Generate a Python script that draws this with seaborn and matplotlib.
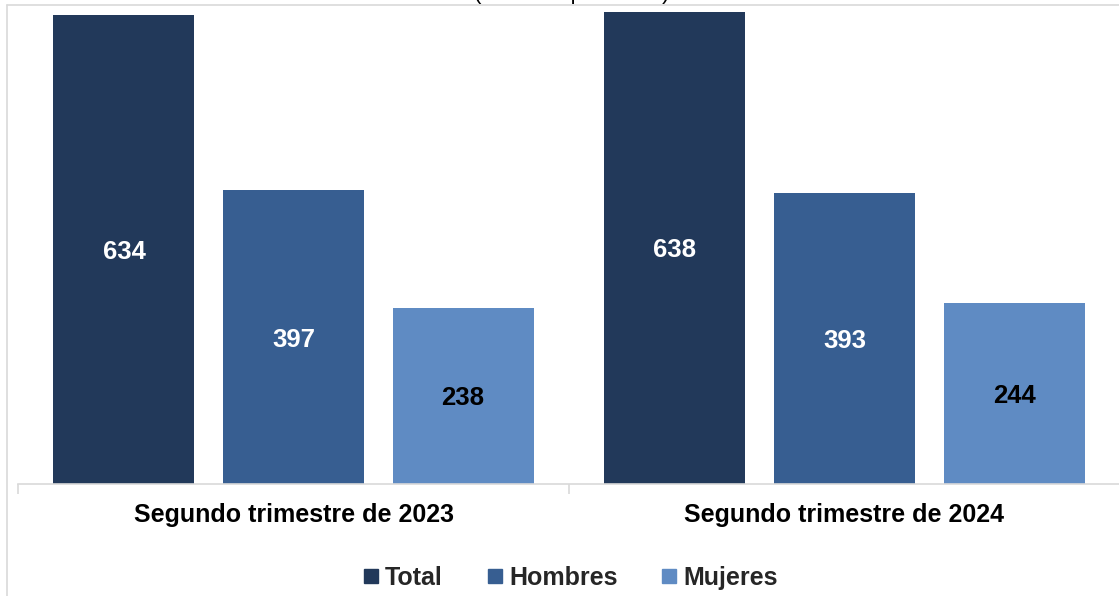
import pandas as pd
import seaborn as sns
import matplotlib.pyplot as plt
from matplotlib.lines import Line2D

# datos (miles de personas)
periodos = ['Segundo trimestre de 2023', 'Segundo trimestre de 2024']
series = ['Total', 'Hombres', 'Mujeres']
total = [634, 638]
hombres = [397, 393]
mujeres = [238, 244]
colores = ['#22395A', '#375E91', '#5F8BC3']
color_texto = ['white', 'white', 'black']

df = pd.DataFrame({
    'periodo': periodos * 3,
    'serie': [s for s in series for _ in periodos],
    'valor': total + hombres + mujeres,
})

sns.set_theme(style='white')
plt.rcParams['font.family'] = ['Liberation Sans', 'DejaVu Sans']

fig = plt.figure(figsize=(11.19, 5.96), dpi=100)
ax = fig.add_axes([18 / 1119, 112 / 596, 1102 / 1119, 481 / 596])

sns.barplot(data=df, x='periodo', y='valor', hue='serie', order=periodos,
            hue_order=series, palette=colores, width=0.923, gap=0.168,
            saturation=1, edgecolor='none', legend=False, ax=ax)

# etiquetas de valor dentro de las barras
for cont, col in zip(ax.containers, color_texto):
    labs = ax.bar_label(cont, fmt='%d', label_type='center', color=col,
                        fontsize=18.5, fontweight='bold')
    for t in labs:
        t.set_va('center_baseline')

ax.set_xlim(-0.5, 1.5)
ax.set_ylim(0, 650)
ax.set_xlabel('')
ax.set_ylabel('')
ax.set_yticks([])
for s in ['left', 'right', 'top']:
    ax.spines[s].set_visible(False)
ax.spines['bottom'].set_color('#D9D9D9')
ax.spines['bottom'].set_linewidth(1.2)

ax.set_xticks([0, 1])
ax.set_xticklabels(periodos, fontsize=18, fontweight='bold', color='black')
ax.tick_params(axis='x', which='major', length=0, pad=14)
ax.set_xticks([-0.5, 0.5, 1.5], minor=True)
ax.tick_params(axis='x', which='minor', length=7, width=1.2, color='#D9D9D9',
               direction='out', bottom=True)

# leyenda
handles = [Line2D([], [], marker='s', linestyle='none', markersize=9.5,
                  markerfacecolor=c, markeredgecolor=c) for c in colores]
fig.legend(handles, series, loc='center', bbox_to_anchor=(571 / 1119, 18 / 596),
           ncol=3, frameon=False, handlelength=0.55, handletextpad=0.3,
           columnspacing=1.8, prop={'size': 18, 'weight': 'bold'})

# título recortado en la parte superior
fig.text(572 / 1119, 1 + 1 / 596, '(Miles de personas)', ha='center',
         va='baseline', fontsize=16, color='black')

# borde del área del gráfico
fig.add_artist(Line2D([7 / 1119, 7 / 1119], [0, 1 - 5 / 596],
                      transform=fig.transFigure, color='#D9D9D9', lw=1.2))
fig.add_artist(Line2D([7 / 1119, 1], [1 - 5 / 596, 1 - 5 / 596],
                      transform=fig.transFigure, color='#D9D9D9', lw=1.2))

fig.savefig('out.png', dpi=100)
